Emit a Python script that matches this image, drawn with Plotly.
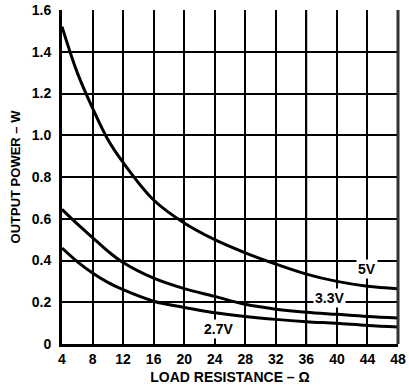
import plotly.graph_objects as go

load_res = [4, 6, 8, 10, 12, 16, 20, 24, 28, 32, 36, 40, 44, 48]
p_5v = [1.52, 1.30, 1.13, 0.98, 0.87, 0.69, 0.58, 0.50, 0.437, 0.383, 0.335, 0.30, 0.277, 0.265]
p_33v = [0.645, 0.575, 0.51, 0.445, 0.39, 0.315, 0.265, 0.228, 0.19, 0.167, 0.152, 0.142, 0.132, 0.125]
p_27v = [0.46, 0.395, 0.34, 0.295, 0.26, 0.205, 0.175, 0.15, 0.132, 0.118, 0.107, 0.099, 0.089, 0.082]

x_ticks = [4, 8, 12, 16, 20, 24, 28, 32, 36, 40, 44, 48]
y_ticks = [0, 0.2, 0.4, 0.6, 0.8, 1.0, 1.2, 1.4, 1.6]
y_tick_text = ["0", "0.2", "0.4", "0.6", "0.8", "1.0", "1.2", "1.4", "1.6"]

labels = [("5V", 43.9, 0.358), ("3.3V", 39.0, 0.219), ("2.7V", 24.5, 0.072)]

FONT = "Liberation Sans, Arial, sans-serif"

fig = go.Figure()
for ys in (p_5v, p_33v, p_27v):
    fig.add_trace(go.Scatter(x=load_res, y=ys, mode="lines", line=dict(color="black", width=3, shape="spline", smoothing=1.0), showlegend=False, hoverinfo="skip"))

for text, lx, ly in labels:
    fig.add_annotation(x=lx, y=ly, text="<b>%s</b>" % text, showarrow=False, bgcolor="white", borderpad=1,
                       font=dict(family=FONT, size=14, color="black"))

fig.add_shape(type="line", xref="x", yref="paper", x0=36, x1=36, y0=0, y1=1, line=dict(color="#666666", width=2), layer="below")

fig.update_layout(
    width=409, height=392,
    margin=dict(l=62, r=11, t=10, b=48, autoexpand=False),
    paper_bgcolor="white", plot_bgcolor="white",
    font=dict(family=FONT, size=14, color="black"),
)
fig.update_xaxes(range=[4, 48], tickvals=x_ticks, ticktext=["<b>%d</b>" % v for v in x_ticks],
                 showgrid=True, gridcolor="black", gridwidth=2, zeroline=False,
                 showline=True, linecolor="black", linewidth=3, mirror=False, automargin=False,
                 ticks="", ticklabelstandoff=0, ticklabeloverflow="allow", tickfont=dict(size=14),
                 title=dict(text="<b>LOAD RESISTANCE – Ω</b>", font=dict(size=14), standoff=7))
fig.update_yaxes(range=[0, 1.6], tickvals=y_ticks, ticktext=["<b>%s</b>" % t for t in y_tick_text],
                 showgrid=True, gridcolor="black", gridwidth=2, zeroline=False,
                 showline=True, linecolor="black", linewidth=3, automargin=False,
                 ticks="", ticklabelstandoff=5, ticklabeloverflow="allow", tickfont=dict(size=14),
                 title=dict(text="<b>OUTPUT POWER – W</b>", font=dict(size=13), standoff=9))
fig.add_shape(type="line", xref="paper", yref="paper", x0=1, x1=1, y0=0, y1=1, line=dict(color="#333333", width=3))

fig.write_html("out.html", config={"displayModeBar": False},
               post_script="document.body.style.margin='0';document.body.style.overflow='hidden';")
